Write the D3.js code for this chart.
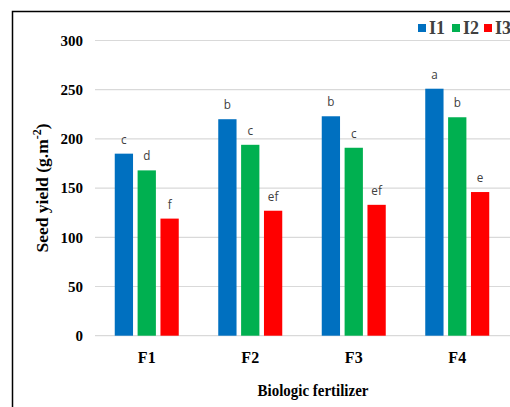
<!DOCTYPE html>
<html>
<head>
<meta charset="utf-8">
<script src="https://cdn.jsdelivr.net/npm/d3@7"></script>
<style>
  body { margin: 0; background: #fff; }
</style>
</head>
<body>
<div class="canvas"></div>
<script>
const categories = ['F1', 'F2', 'F3', 'F4'];
const seriesNames = ['I1', 'I2', 'I3'];
const seriesColors = ['#0070c0', '#00b050', '#ff0000'];
const valuesI1 = [185, 220, 223, 251];
const valuesI2 = [168, 194, 191, 222];
const valuesI3 = [119, 127, 133, 146];
const lettersI1 = ['c', 'b', 'b', 'a'];
const lettersI2 = ['d', 'c', 'c', 'b'];
const lettersI3 = ['f', 'ef', 'ef', 'e'];
const yTicks = [0, 50, 100, 150, 200, 250, 300];

const width = 510, height = 407;
const serif = '"Liberation Serif", "Times New Roman", serif';

const svg = d3.select('.canvas')
  .append('svg')
  .attr('width', width)
  .attr('height', height);

// outer frame (only left and top edges are visible in the picture)
svg.append('rect')
  .attr('x', 12.5).attr('y', 11.5)
  .attr('width', 520).attr('height', 420)
  .attr('fill', 'none')
  .attr('stroke', '#000')
  .attr('stroke-width', 1.5);

const y = d3.scaleLinear().domain([0, 300]).range([335.7, 40.5]);
const x = d3.scaleBand().domain(categories).range([95, 509]);
const xInner = d3.scaleBand().domain(seriesNames)
  .range([x.bandwidth() / 2 - 32, x.bandwidth() / 2 + 32])
  .paddingInner(0.2);

// gridlines
svg.append('g')
  .selectAll('line')
  .data(yTicks)
  .join('line')
  .attr('x1', 95).attr('x2', 510)
  .attr('y1', d => y(d)).attr('y2', d => y(d))
  .attr('stroke', '#d9d9d9')
  .attr('stroke-width', 1.2);

// y tick labels
svg.append('g')
  .selectAll('text')
  .data(yTicks)
  .join('text')
  .attr('x', 83)
  .attr('y', d => y(d))
  .attr('dy', '0.35em')
  .attr('text-anchor', 'end')
  .attr('font-family', serif)
  .attr('font-weight', 'bold')
  .attr('font-size', 15)
  .attr('fill', '#000')
  .text(d => d);

const data = [];
categories.forEach((c, i) => {
  data.push({ cat: c, s: 'I1', v: valuesI1[i], l: lettersI1[i], color: seriesColors[0] });
  data.push({ cat: c, s: 'I2', v: valuesI2[i], l: lettersI2[i], color: seriesColors[1] });
  data.push({ cat: c, s: 'I3', v: valuesI3[i], l: lettersI3[i], color: seriesColors[2] });
});

const bars = svg.append('g');
bars.selectAll('rect')
  .data(data)
  .join('rect')
  .attr('x', d => x(d.cat) + xInner(d.s))
  .attr('y', d => y(d.v))
  .attr('width', xInner.bandwidth())
  .attr('height', d => y(0) - y(d.v))
  .attr('fill', d => d.color);

bars.selectAll('text')
  .data(data)
  .join('text')
  .attr('transform', d => `translate(${x(d.cat) + xInner(d.s) + xInner.bandwidth() / 2}, ${y(d.v) - 10}) scale(0.9, 1)`)
  .attr('text-anchor', 'middle')
  .attr('font-family', '"Open Sans", sans-serif')
  .attr('font-size', 13)
  .attr('fill', '#404040')
  .text(d => d.l);

// x category labels
svg.append('g')
  .selectAll('text')
  .data(categories)
  .join('text')
  .attr('x', d => x(d) + x.bandwidth() / 2)
  .attr('y', 363)
  .attr('text-anchor', 'middle')
  .attr('font-family', serif)
  .attr('font-weight', 'bold')
  .attr('font-size', 16)
  .text(d => d);

// axis titles
svg.append('text')
  .attr('transform', 'translate(313, 396) scale(0.88, 1)')
  .attr('text-anchor', 'middle')
  .attr('font-family', serif)
  .attr('font-weight', 'bold')
  .attr('font-size', 17)
  .text('Biologic fertilizer');

const yTitle = svg.append('text')
  .attr('transform', 'translate(48, 188) rotate(-90)')
  .attr('text-anchor', 'middle')
  .attr('font-family', serif)
  .attr('font-weight', 'bold')
  .attr('font-size', 17.5);
yTitle.append('tspan').text('Seed yield (g.m');
yTitle.append('tspan').attr('dy', -7).attr('font-size', 12).text('-2');
yTitle.append('tspan').attr('dy', 7).text(')');

// legend
const legendX = [418, 452, 484];
const legend = svg.append('g')
  .selectAll('g')
  .data(seriesNames)
  .join('g')
  .attr('transform', (d, i) => `translate(${legendX[i]}, 24)`);
legend.append('rect')
  .attr('width', 8).attr('height', 8)
  .attr('fill', (d, i) => seriesColors[i]);
legend.append('text')
  .attr('x', 11).attr('y', 9.5)
  .attr('font-family', serif)
  .attr('font-weight', 'bold')
  .attr('font-size', 18)
  .attr('fill', '#404040')
  .text(d => d);
</script>
</body>
</html>
